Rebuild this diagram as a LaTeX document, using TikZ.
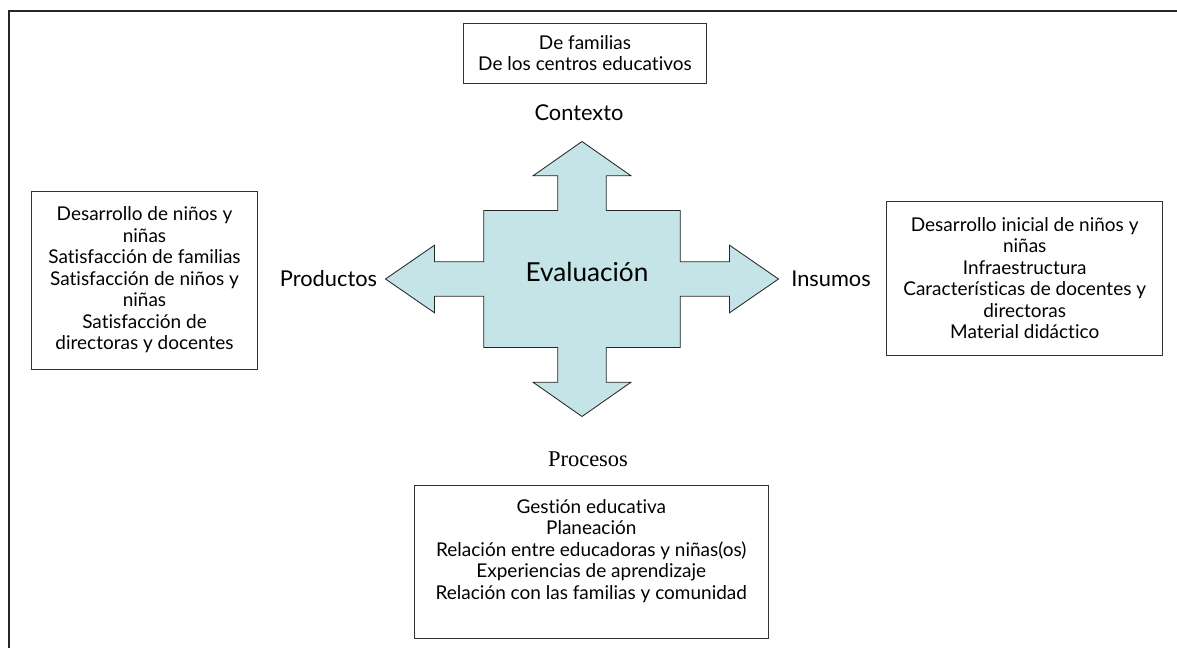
\documentclass[tikz,border=0pt]{standalone}
\usepackage{fontspec}
\setmainfont{Lato}[Ligatures=CommonOff]
\newfontfamily\serifstage{Liberation Serif}
\definecolor{crossblue}{RGB}{196,228,231}
\tikzstyle{infobox}=[draw=black!80,line width=0.6pt,align=center,inner sep=0pt,
    font=\fontsize{13.5}{15.3}\selectfont]
\tikzstyle{stage}=[font=\fontsize{15.5}{17}\selectfont]
\tikzstyle{cross}=[fill=crossblue,draw=black!85,line width=0.6pt]

\begin{document}
\begin{tikzpicture}[x=0.025cm,y=-0.025cm]

    \useasboundingbox (0,0) rectangle (1177,648);
    \draw[line width=1.4pt,black!85] (9,648) -- (9,11) -- (1177,11);

    \begin{scope}[shift={(582,279)}]
    \path[cross] (-24.2,-68.5) -- (-24.2,-103.2) -- (-49,-103.2) -- (0,-137.5)
                 -- (49,-103.2) -- (24.2,-103.2) -- (24.2,-68.5)
                 -- (98.3,-68.5) -- (98.3,-17.2) -- (147.5,-17.2) -- (147.5,-33.8)
                 -- (196.5,0) -- (147.5,33.8) -- (147.5,17.2) -- (98.3,17.2)
                 -- (98.3,68.5) -- (24.2,68.5) -- (24.2,103.2) -- (49,103.2)
                 -- (0,137.5) -- (-49,103.2) -- (-24.2,103.2) -- (-24.2,68.5)
                 -- (-98.3,68.5) -- (-98.3,17.2) -- (-147.5,17.2) -- (-147.5,33.8)
                 -- (-196.5,0) -- (-147.5,-33.8) -- (-147.5,-17.2) -- (-98.3,-17.2)
                 -- (-98.3,-68.5) -- cycle;
    \end{scope}

    \node[font=\fontsize{18.6}{21}\selectfont] (eval) at (587,272) {Evaluación};

    \node[stage] (contexto)  at (579,113)   {Contexto};
    \node[stage] (productos) at (328.5,279) {Productos};
    \node[stage] (insumos)   at (831,279)   {Insumos};
    \node[stage,font=\serifstage\fontsize{16}{18}\selectfont] (procesos) at (588,459) {Procesos};

    \node[infobox,minimum width=6.085cm,minimum height=1.5cm] (ctxbox) at (585,53.3)
        {De familias\\De los centros educativos};
    \node[infobox,minimum width=5.64cm,minimum height=4.45cm] (prodbox) at (144.5,280)
        {Desarrollo de niños y\\niñas\\Satisfacción de familias\\Satisfacción de niños y\\niñas\\Satisfacción de\\directoras y docentes};
    \node[infobox,minimum width=6.9cm,minimum height=3.85cm] (insbox) at (1024.7,278)
        {Desarrollo inicial de niños y\\niñas\\Infraestructura\\Características de docentes y\\directoras\\Material didáctico};
    \node[infobox,minimum width=8.85cm,minimum height=3.815cm] (procbox) at (591.3,562)
        {Gestión educativa\\Planeación\\Relación entre educadoras y niñas(os)\\Experiencias de aprendizaje\\Relación con las familias y comunidad\\[0.1cm]~};

\end{tikzpicture}
\end{document}
